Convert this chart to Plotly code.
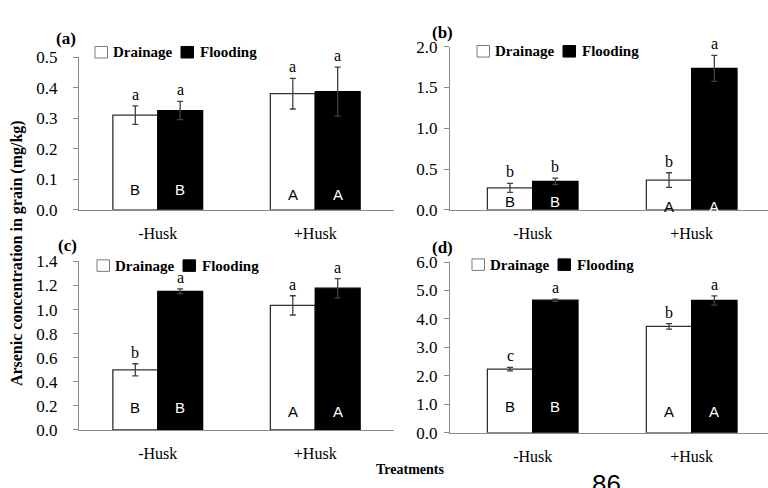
import plotly.graph_objects as go

# ---------------- data ----------------
categories = ["-Husk", "+Husk"]

a_drain = [0.31, 0.38]
a_drain_err = [0.03, 0.05]
a_flood = [0.325, 0.387]
a_flood_err = [0.03, 0.08]
a_drain_sig = ["a", "a"]
a_flood_sig = ["a", "a"]

b_drain = [0.27, 0.365]
b_drain_err = [0.055, 0.09]
b_flood = [0.35, 1.735]
b_flood_err = [0.04, 0.16]
b_drain_sig = ["b", "b"]
b_flood_sig = ["b", "a"]

c_drain = [0.50, 1.035]
c_drain_err = [0.05, 0.08]
c_flood = [1.152, 1.178]
c_flood_err = [0.02, 0.08]
c_drain_sig = ["b", "a"]
c_flood_sig = ["a", "a"]

d_drain = [2.24, 3.74]
d_drain_err = [0.06, 0.10]
d_flood = [4.66, 4.65]
d_flood_err = [0.04, 0.16]
d_drain_sig = ["c", "b"]
d_flood_sig = ["a", "a"]

group_letters = ["B", "A"]

y_ranges = [[0, 0.5], [0, 2.0], [0, 1.4], [0, 6.0]]
y_dticks = [0.1, 0.5, 0.2, 1.0]
panel_names = ["(a)", "(b)", "(c)", "(d)"]

# ---------------- layout helpers ----------------
W, H = 768, 488
def px_x(x):
    return x / W
def px_y(y):
    return 1 - y / H

SERIF = "Liberation Serif"
SANS = "Liberation Sans"
AXIS_COLOR = "#8a8a8a"
ERR_COLOR = "#404040"

panels = [
    dict(x0=79, x1=394, yb=209, yt=50, xr=[-0.5, 1.5], so=12,
         data=(a_drain, a_drain_err, a_flood, a_flood_err, a_drain_sig, a_flood_sig),
         lab=(66, 31), leg=(95, 45), let_y=(0.066, 0.05)),
    dict(x0=450, x1=768, yb=209, yt=39.3, xr=[-0.52, 1.48], so=3,
         data=(b_drain, b_drain_err, b_flood, b_flood_err, b_drain_sig, b_flood_sig),
         lab=(442, 24), leg=(477, 44), let_y=(0.10, 0.04)),
    dict(x0=79, x1=394, yb=438, yt=262.7, xr=[-0.5, 1.5], so=12,
         data=(c_drain, c_drain_err, c_flood, c_flood_err, c_drain_sig, c_flood_sig),
         lab=(67, 246), leg=(97, 267), let_y=(0.19, 0.15)),
    dict(x0=450, x1=768, yb=441, yt=263.3, xr=[-0.52, 1.48], so=3,
         data=(d_drain, d_drain_err, d_flood, d_flood_err, d_drain_sig, d_flood_sig),
         lab=(442, 248), leg=(472, 266), let_y=(0.91, 0.74)),
]

fig = go.Figure()
annotations = []
shapes = []

for i, p in enumerate(panels):
    n = "" if i == 0 else str(i + 1)
    xa, ya = "x" + n, "y" + n
    dr, dre, fl, fle, drs, fls = p["data"]
    fig.add_trace(go.Bar(
        x=categories, y=dr, xaxis=xa, yaxis=ya, name="Drainage",
        marker=dict(color="white", line=dict(color="#303030", width=1.3)),
        error_y=dict(type="data", array=dre, color=ERR_COLOR, thickness=1.3, width=3),
        showlegend=False, offsetgroup="d"))
    fig.add_trace(go.Bar(
        x=categories, y=fl, xaxis=xa, yaxis=ya, name="Flooding",
        marker=dict(color="black", line=dict(color="black", width=1.3)),
        error_y=dict(type="data", array=fle, color=ERR_COLOR, thickness=1.3, width=3),
        showlegend=False, offsetgroup="f"))

    xkey = "xaxis" + n
    ykey = "yaxis" + n
    fig.layout[xkey] = dict(
        domain=[px_x(p["x0"]), min(1.0, px_x(p["x1"]))], anchor=ya,
        range=p["xr"], showline=True, linecolor=AXIS_COLOR, linewidth=1.3,
        ticks="", showgrid=False, zeroline=False, ticklabelstandoff=9,
        tickfont=dict(family=SERIF, size=16, color="black"), fixedrange=True)
    fig.layout[ykey] = dict(
        domain=[px_y(p["yb"]), px_y(p["yt"])], anchor=xa,
        range=y_ranges[i], dtick=y_dticks[i], tick0=0, tickformat=".1f",
        showline=True, linecolor=AXIS_COLOR, linewidth=1.3,
        ticks="outside", ticklen=5, tickcolor=AXIS_COLOR, tickwidth=1,
        ticklabelstandoff=p["so"],
        showgrid=False, zeroline=False,
        tickfont=dict(family=SERIF, size=17, color="black"), fixedrange=True)

    for j, cat in enumerate(categories):
        for val, err, sig, off, col in ((dr[j], dre[j], drs[j], -0.5, "black"),
                                        (fl[j], fle[j], fls[j], 0.5, "white")):
            annotations.append(dict(
                x=cat, y=val + err, xref=xa, yref=ya, text=sig, showarrow=False,
                xanchor="center", yanchor="bottom", xshift=off * 45, yshift=1,
                font=dict(family=SERIF, size=16, color="black")))
            annotations.append(dict(
                x=cat, y=p["let_y"][j], xref=xa, yref=ya, text=group_letters[j],
                showarrow=False, xanchor="center", yanchor="middle", xshift=off * 45,
                font=dict(family=SANS, size=15, color=col)))

    lx, ly = p["lab"]
    annotations.append(dict(x=px_x(lx), y=px_y(ly), xref="paper", yref="paper",
                            text="<b>" + panel_names[i] + "</b>", showarrow=False,
                            xanchor="center", yanchor="middle",
                            font=dict(family=SERIF, size=17, color="black")))
    gx, gy = p["leg"]
    for bx, fill, txt, tx in ((gx, "white", "Drainage", gx + 16),
                              (gx + 86, "black", "Flooding", gx + 103)):
        shapes.append(dict(type="rect", xref="paper", yref="paper",
                           x0=px_x(bx), x1=px_x(bx + 12.5), y0=px_y(gy + 6), y1=px_y(gy - 6),
                           fillcolor=fill, line=dict(color="#7a7a7a" if fill == "white" else "black", width=1)))
        annotations.append(dict(x=px_x(tx), y=px_y(gy), xref="paper", yref="paper",
                                text="<b>" + txt + "</b>", showarrow=False,
                                xanchor="left", yanchor="middle",
                                font=dict(family=SERIF, size=15, color="black")))

annotations.append(dict(x=px_x(17), y=px_y(254), xref="paper", yref="paper",
                        text="<b>Arsenic concentration in grain (mg/kg)</b>", textangle=-90,
                        showarrow=False, xanchor="center", yanchor="middle",
                        font=dict(family=SERIF, size=16, color="black")))
annotations.append(dict(x=px_x(410), y=px_y(479), xref="paper", yref="paper",
                        text="<b>Treatments</b>", showarrow=False,
                        xanchor="center", yanchor="middle",
                        font=dict(family=SERIF, size=14, color="black")))
annotations.append(dict(x=px_x(606), y=px_y(477), xref="paper", yref="paper",
                        text="86", showarrow=False, xanchor="center", yanchor="top",
                        font=dict(family=SANS, size=26, color="black")))

fig.update_layout(
    width=W, height=H, margin=dict(l=0, r=0, t=0, b=0),
    paper_bgcolor="white", plot_bgcolor="white",
    barmode="group", bargap=0.43, bargroupgap=0,
    showlegend=False, annotations=annotations, shapes=shapes,
)

fig.write_html("out.html", config={"displayModeBar": False})
